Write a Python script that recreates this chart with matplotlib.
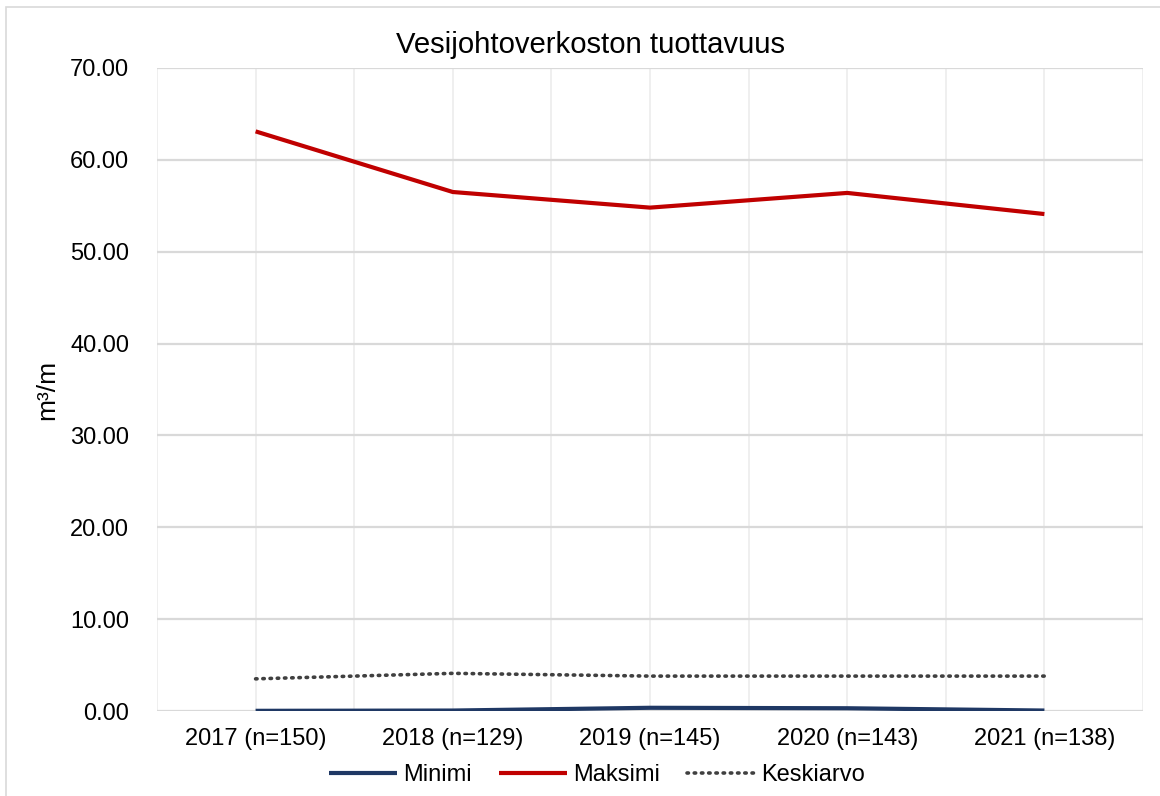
import matplotlib
matplotlib.use("Agg")
import matplotlib.pyplot as plt
from matplotlib.patches import Rectangle

plt.rcParams['font.family'] = ['Liberation Sans', 'DejaVu Sans']

years = ["2017 (n=150)", "2018 (n=129)", "2019 (n=145)", "2020 (n=143)", "2021 (n=138)"]
minimi = [0.02, 0.05, 0.35, 0.3, 0.05]
maksimi = [63.1, 56.5, 54.8, 56.4, 54.1]
keskiarvo = [3.5, 4.1, 3.8, 3.8, 3.8]

fig = plt.figure(figsize=(11.6, 7.96), dpi=100)
ax = fig.add_axes([157 / 1160, 1 - 711 / 796, (1143 - 157) / 1160, (711 - 68) / 796])

# outer chart border
fig.patches.append(Rectangle((6 / 1160, -0.1), 1.2, 1 - 7 / 796 + 0.1, transform=fig.transFigure,
                             fill=False, edgecolor="#d9d9d9", linewidth=1.2))

x = list(range(len(years)))

# gridlines (vertical at each half category)
for gx in [i * 0.5 - 0.5 for i in range(11)]:
    ax.axvline(gx, color="#ececec", linewidth=1.2, zorder=0)
for gy in range(0, 71, 10):
    ax.axhline(gy, color="#d9d9d9", linewidth=1.6, zorder=0)

ax.plot(x, minimi, color="#1f3864", linewidth=3, label="Minimi", solid_capstyle="butt")
ax.plot(x, maksimi, color="#c00000", linewidth=3, label="Maksimi", solid_capstyle="butt")
ax.plot(x, keskiarvo, color="#404040", linewidth=2.6, linestyle=(0, (0.4, 1.6)),
        dash_capstyle="round", label="Keskiarvo")

ax.set_xlim(-0.5, 4.5)
ax.set_ylim(0, 70)
ax.set_xticks(x)
ax.set_xticklabels(years)
ax.set_yticks(range(0, 71, 10))
ax.set_yticklabels([f"{v:.2f}" for v in range(0, 71, 10)])
ax.tick_params(axis="both", length=0, labelsize=17, labelcolor="#000000")
ax.tick_params(axis="x", pad=12)
ax.tick_params(axis="y", pad=20)
for s in ax.spines.values():
    s.set_visible(False)

ax.set_ylabel("m³/m", fontsize=19, labelpad=8)
fig.text(590 / 1160, 1 - 45 / 796, "Vesijohtoverkoston tuottavuus", fontsize=21.1,
         ha="center", va="center")

fig.legend(loc="center", bbox_to_anchor=(597 / 1160, 1 - 775 / 796), ncol=3, frameon=False,
           fontsize=17, handlelength=2.9, handletextpad=0.25, columnspacing=1.15,
           borderpad=0)

fig.savefig("out.png", dpi=100)
